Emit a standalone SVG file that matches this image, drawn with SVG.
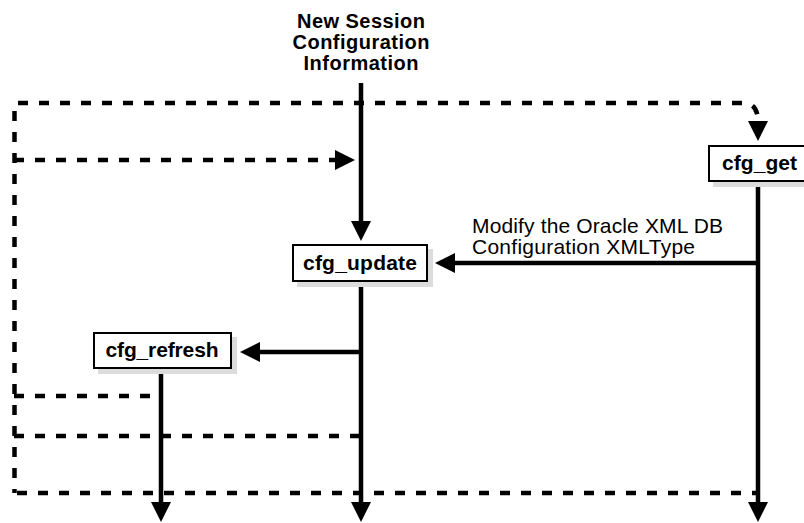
<svg xmlns="http://www.w3.org/2000/svg" width="804" height="523" viewBox="0 0 804 523">
  <style>
    .title { font-family: "Liberation Sans", Arial, sans-serif; font-weight: bold; font-size: 20px; fill: #000; text-anchor: middle; }
    .node-text { font-family: "Liberation Sans", Arial, sans-serif; font-weight: bold; font-size: 21px; fill: #000; text-anchor: middle; }
    .label { font-family: "Liberation Sans", Arial, sans-serif; font-size: 21px; fill: #000; }
    .box { fill: #fff; stroke: #000; stroke-width: 2; }
    .shadow { fill: #dcdcdc; stroke: none; }
    .solid { fill: none; stroke: #000; stroke-width: 4.5; }
    .dashed { fill: none; stroke: #000; stroke-width: 4.5; stroke-dasharray: 10 11; }
  </style>
  <defs>
    <marker id="ah" viewBox="0 0 20 20" markerUnits="userSpaceOnUse" markerWidth="20" markerHeight="20" refX="1" refY="10" orient="auto">
      <path d="M0,0 L20,10 L0,20 Z" fill="#000"/>
    </marker>
  </defs>

  <g id="title">
    <text class="title" x="361" y="28" textLength="128" lengthAdjust="spacing">New Session</text>
    <text class="title" x="361" y="49" textLength="137" lengthAdjust="spacing">Configuration</text>
    <text class="title" x="361" y="70" textLength="115" lengthAdjust="spacing">Information</text>
  </g>

  <g id="connectors">
    <!-- dashed feedback lines -->
    <path class="dashed" d="M18 103 H744 Q758 103 758 122" marker-end="url(#ah)"/>
    <path class="dashed" d="M14.5 111 V493"/>
    <path class="dashed" d="M14 160 H336" marker-end="url(#ah)"/>
    <path class="dashed" d="M14 396 H161"/>
    <path class="dashed" d="M14 436 H361"/>
    <path class="dashed" d="M17 493 H758"/>
    <!-- solid flows -->
    <path class="solid" d="M361 83 V222" marker-end="url(#ah)"/>
    <path class="solid" d="M758 263 H454" marker-end="url(#ah)"/>
    <path class="solid" d="M361 352 H259" marker-end="url(#ah)"/>
    <path class="solid" d="M161 369 V503" marker-end="url(#ah)"/>
    <path class="solid" d="M361 282 V503" marker-end="url(#ah)"/>
    <path class="solid" d="M758 182 V503" marker-end="url(#ah)"/>
  </g>

  <g id="label-modify">
    <text class="label" x="472" y="233" textLength="251" lengthAdjust="spacing">Modify the Oracle XML DB</text>
    <text class="label" x="472" y="254" textLength="223" lengthAdjust="spacing">Configuration XMLType</text>
  </g>

  <g id="cfg_get">
    <rect class="shadow" x="713" y="150" width="102" height="37"/>
    <rect class="box" x="709" y="146" width="100" height="35"/>
    <text class="node-text" x="759.5" y="170" textLength="75" lengthAdjust="spacing">cfg_get</text>
  </g>

  <g id="cfg_update">
    <rect class="shadow" x="297" y="249" width="136" height="38"/>
    <rect class="box" x="293" y="245" width="134" height="36"/>
    <text class="node-text" x="360" y="270" textLength="114" lengthAdjust="spacing">cfg_update</text>
  </g>

  <g id="cfg_refresh">
    <rect class="shadow" x="98" y="337" width="139" height="37"/>
    <rect class="box" x="94" y="333" width="137" height="35"/>
    <text class="node-text" x="162" y="357" textLength="113" lengthAdjust="spacing">cfg_refresh</text>
  </g>
</svg>
